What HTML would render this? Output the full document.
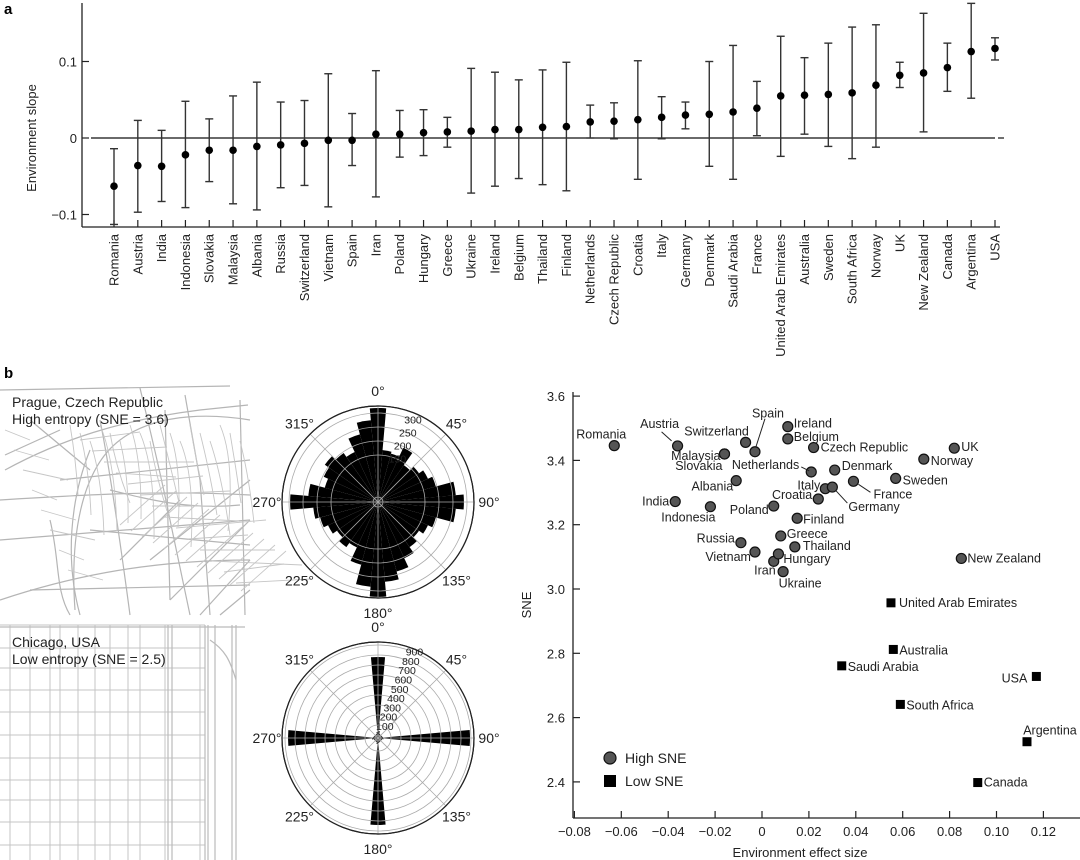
<!DOCTYPE html>
<html><head><meta charset="utf-8"><style>
html,body{margin:0;padding:0;background:#fff}
svg{display:block;font-family:"Liberation Sans",Arial,sans-serif}
</style></head><body>
<svg id="fig" width="1080" height="860" viewBox="0 0 1080 860">
<text x="4" y="14" font-size="15" font-weight="bold">a</text>
<text x="4" y="378" font-size="15" font-weight="bold">b</text>
<g id="pa"></g>
<g id="maps"></g>
<g id="polar1"></g>
<g id="polar2"></g>
<g id="sc"></g>
</svg>
<script>
const countries=["Romania","Austria","India","Indonesia","Slovakia","Malaysia","Albania","Russia","Switzerland","Vietnam","Spain","Iran","Poland","Hungary","Greece","Ukraine","Ireland","Belgium","Thailand","Finland","Netherlands","Czech Republic","Croatia","Italy","Germany","Denmark","Saudi Arabia","France","United Arab Emirates","Australia","Sweden","South Africa","Norway","UK","New Zealand","Canada","Argentina","USA"];
const slopeMean=[-0.063,-0.036,-0.037,-0.022,-0.016,-0.016,-0.011,-0.009,-0.007,-0.003,-0.003,0.005,0.005,0.007,0.008,0.009,0.011,0.011,0.014,0.015,0.021,0.022,0.024,0.027,0.030,0.031,0.034,0.039,0.055,0.056,0.057,0.059,0.069,0.082,0.085,0.092,0.113,0.117];
const slopeLow=[-0.113,-0.097,-0.083,-0.091,-0.057,-0.086,-0.094,-0.065,-0.062,-0.090,-0.036,-0.077,-0.025,-0.023,-0.012,-0.072,-0.063,-0.053,-0.061,-0.069,0.000,-0.001,-0.054,-0.001,0.012,-0.037,-0.054,0.003,-0.024,0.005,-0.011,-0.027,-0.012,0.066,0.008,0.061,0.052,0.102];
const slopeHigh=[-0.014,0.023,0.010,0.048,0.025,0.055,0.073,0.047,0.049,0.084,0.032,0.088,0.036,0.037,0.027,0.091,0.086,0.076,0.089,0.099,0.043,0.046,0.101,0.054,0.047,0.100,0.121,0.074,0.133,0.105,0.124,0.145,0.148,0.099,0.163,0.124,0.176,0.131];
const slopeTicks=[-0.1,0,0.1];
const sneValues=[3.446,3.445,3.272,3.256,3.42,3.42,3.337,3.144,3.456,3.115,3.427,3.086,3.258,3.109,3.165,3.054,3.505,3.467,3.131,3.22,3.364,3.44,3.28,3.312,3.317,3.37,2.761,3.335,2.957,2.812,3.344,2.641,3.404,3.438,3.095,2.398,2.525,2.728];
const sneLow=["Saudi Arabia","United Arab Emirates","Australia","South Africa","Canada","Argentina","USA"];
const scXTicks=[-0.08,-0.06,-0.04,-0.02,0,0.02,0.04,0.06,0.08,0.10,0.12];
const scXTickLabels=["\u22120.08","\u22120.06","\u22120.04","\u22120.02","0","0.02","0.04","0.06","0.08","0.10","0.12"];
const scYTicks=[2.4,2.6,2.8,3.0,3.2,3.4,3.6];
const pragueCounts=[318,168,161,196,143,161,179,196,261,289,261,196,179,161,179,204,239,268,321,286,214,161,179,161,179,196,214,296,232,179,196,214,196,179,232,275];
const chicagoCounts=[780,40,15,10,10,10,10,12,20,890,25,12,10,10,10,10,12,20,840,30,12,10,10,10,10,12,30,870,20,12,10,10,10,10,12,30];
const pragueRings=[150,200,250,300];
const chicagoRings=[100,200,300,400,500,600,700,800,900];

const NS="http://www.w3.org/2000/svg";
function mk(parent,tag,attrs,text){const e=document.createElementNS(NS,tag);for(const k in attrs)e.setAttribute(k,attrs[k]);if(text!==undefined)e.textContent=text;parent.appendChild(e);return e;}
let e;
// ---------- panel a ----------
const pa=document.getElementById('pa');
const ax0=82,ax1=1000,ayB=227,ayT=3;
const xa=i=>114+i*(995-114)/(countries.length-1);
const ya=v=>138-v*765;
e=mk(pa,'line',{x1:ax0,y1:ayT,x2:ax0,y2:ayB,stroke:'#222','stroke-width':1.3});

e=mk(pa,'line',{x1:ax0,y1:ayB,x2:ax1,y2:ayB,stroke:'#222','stroke-width':1.3});

e=mk(pa,'line',{x1:91,y1:ya(0),x2:995,y2:ya(0),stroke:'#111','stroke-width':1.2});

mk(pa,'line',{x1:998,y1:ya(0),x2:1004,y2:ya(0),stroke:'#111','stroke-width':1.2});
slopeTicks.forEach(t=>{
  mk(pa,'line',{x1:ax0,y1:ya(t),x2:ax0+7,y2:ya(t),stroke:'#222','stroke-width':1.2});
  e=mk(pa,'text',{x:ax0-5,y:ya(t)+5,'text-anchor':'end','font-size':13,fill:'#222'},t===0?'0':(t<0?'\u2212'+Math.abs(t):String(t)));
  
});
e=mk(pa,'text',{x:0,y:0,transform:'translate(36,138) rotate(-90)','text-anchor':'middle','font-size':13,fill:'#222'},'Environment slope');

countries.forEach((c,i)=>{
  const x=xa(i);
  mk(pa,'line',{x1:x,y1:ayB,x2:x,y2:ayB-7,stroke:'#222','stroke-width':1.2});
  e=mk(pa,'text',{x:0,y:0,transform:`translate(${x},234) rotate(-90)`,'text-anchor':'end','dominant-baseline':'central','font-size':13,fill:'#222'},c);
  
  const g=mk(pa,'g',{});
  
  
  mk(g,'line',{x1:x,y1:ya(slopeLow[i]),x2:x,y2:ya(slopeHigh[i]),stroke:'#333','stroke-width':1.4});
  mk(g,'line',{x1:x-4,y1:ya(slopeLow[i]),x2:x+4,y2:ya(slopeLow[i]),stroke:'#333','stroke-width':1.4});
  mk(g,'line',{x1:x-4,y1:ya(slopeHigh[i]),x2:x+4,y2:ya(slopeHigh[i]),stroke:'#333','stroke-width':1.4});
  mk(g,'circle',{cx:x,cy:ya(slopeMean[i]),r:3.8,fill:'#000'});
});

// ---------- maps ----------
const mp=document.getElementById('maps');
const pg=mk(mp,'g',{});

const praguePaths=["M5,470 C60,440 120,420 200,410 L248,405","M75,610 C70,540 80,470 120,440 C160,410 220,415 250,420","M30,590 L250,585","M0,540 L250,520","M0,500 C80,495 160,490 250,495","M140,388 C150,430 160,470 170,520 L190,615","M185,395 L200,480 L210,615","M100,420 C110,470 120,540 130,615","M60,480 L250,460","M90,530 L250,545","M150,560 L250,480","M170,600 L250,520","M200,615 L250,560","M220,615 L250,590","M0,600 C60,580 140,560 250,560","M30,420 L90,470","M5,455 L60,430","M240,400 L245,615","M165,410 L170,600","M110,490 C150,500 190,510 240,505","M120,560 L180,500","M50,520 C60,560 55,590 70,615","M0,390 L230,386","M90,450 C70,500 65,560 80,615"];
praguePaths.forEach(d=>mk(pg,'path',{d,stroke:'#b5b5b5','stroke-width':1.2,fill:'none'}));
for(let i=0;i<18;i++){mk(pg,'path',{d:`M${70+i*10},${425+(i%3)*8} q${6+i%4*3},${35} ${8+i%5*3},${70+(i%4)*12}`,stroke:'#c6c6c6','stroke-width':0.9,fill:'none'});}
for(let i=0;i<14;i++){mk(pg,'path',{d:`M${80+i*12},${440+i*11} l${60+(i%3)*15},${-8+(i%4)*4}`,stroke:'#c6c6c6','stroke-width':0.9,fill:'none'});}
for(let i=0;i<12;i++){mk(pg,'path',{d:`M${120+i*11},${525+i*6} l45,-40`,stroke:'#c6c6c6','stroke-width':0.9,fill:'none'});}
for(let i=0;i<8;i++){mk(pg,'path',{d:`M${5+i*9},${430+i*20} l${25+i%3*10},${10}`,stroke:'#c6c6c6','stroke-width':0.9,fill:'none'});}
e=mk(pg,'text',{x:12,y:407,'font-size':14,fill:'#222'},'Prague, Czech Republic');

e=mk(pg,'text',{x:12,y:424,'font-size':14,fill:'#222'},'High entropy (SNE = 3.6)');

const cg=mk(mp,'g',{});

[10,30,50,60,78,95,110,128,140,165,200].forEach(x=>mk(cg,'line',{x1:x,y1:625,x2:x,y2:860,stroke:'#c4c4c4','stroke-width':1}));
[625,648,668,690,712,735,758,780,800,822,845].forEach(y=>mk(cg,'line',{x1:0,y1:y,x2:205,y2:y,stroke:'#c4c4c4','stroke-width':1}));
[168,172,205,208,215,232,236].forEach(x=>mk(cg,'line',{x1:x,y1:625,x2:x,y2:860,stroke:'#bbb','stroke-width':1.2}));
mk(cg,'line',{x1:0,y1:627,x2:245,y2:627,stroke:'#bbb','stroke-width':1.3});
mk(cg,'path',{d:"M210,640 C225,650 230,660 236,680",stroke:'#bbb','stroke-width':1.2,fill:'none'});
e=mk(cg,'text',{x:12,y:647,'font-size':14,fill:'#222'},'Chicago, USA');

e=mk(cg,'text',{x:12,y:664,'font-size':14,fill:'#222'},'Low entropy (SNE = 2.5)');


// ---------- polar ----------
function polar(gid,cx,cy,R,r0,scale,counts,rings,name){
  const g=document.getElementById(gid);
  const rr=v=>r0+v*scale;
  const n=counts.length,step=2*Math.PI/n;
  mk(g,'circle',{cx,cy,r:R,fill:'#fff',stroke:'#222','stroke-width':1.2});
  counts.forEach((v,i)=>{
    const a0=i*step-step/2,a1=i*step+step/2,r=Math.min(rr(v),R);
    const p=(a,rad)=>`${cx+rad*Math.sin(a)},${cy-rad*Math.cos(a)}`;
    e=mk(g,'path',{d:`M${cx},${cy} L${p(a0,r)} A${r},${r} 0 0 1 ${p(a1,r)} Z`,fill:'#000'});
    
  });
  [0].concat(rings).forEach(v=>mk(g,'circle',{cx,cy,r:rr(v),fill:'none',stroke:'#aaa','stroke-width':0.8}));
  for(let k=0;k<8;k++){const a=k*Math.PI/4;mk(g,'line',{x1:cx,y1:cy,x2:cx+R*Math.sin(a),y2:cy-R*Math.cos(a),stroke:'#aaa','stroke-width':0.8});}
  mk(g,'circle',{cx,cy,r:R,fill:'none',stroke:'#222','stroke-width':1.2});
  rings.forEach(v=>{const r=rr(v),a=0.38;
    e=mk(g,'text',{x:cx+r*Math.sin(a)+2,y:cy-r*Math.cos(a)+4,'font-size':10.5,fill:'#222','text-anchor':'middle'},String(v));
    });
  [0,45,90,135,180,225,270,315].forEach(d=>{const a=d*Math.PI/180,rl=R+15;
    e=mk(g,'text',{x:cx+rl*Math.sin(a),y:cy-rl*Math.cos(a)+5,'font-size':14,fill:'#222','text-anchor':'middle'},d+'\u00b0');
    });
}
polar('polar1',378,502,96,5,0.28,pragueCounts,pragueRings,'prague');
polar('polar2',378,738,96,3,0.1,chicagoCounts,chicagoRings,'chicago');

// ---------- scatter ----------
const sc=document.getElementById('sc');
const xs=v=>762+v*2345, ys=v=>589-(v-3.0)*321.5;
const sx0=573,syB=818;
e=mk(sc,'line',{x1:sx0,y1:392,x2:sx0,y2:syB,stroke:'#222','stroke-width':1.3});

e=mk(sc,'line',{x1:sx0,y1:syB,x2:1080,y2:syB,stroke:'#222','stroke-width':1.3});

scXTicks.forEach((t,i)=>{const x=xs(t);
  mk(sc,'line',{x1:x,y1:syB,x2:x,y2:syB-7,stroke:'#222','stroke-width':1.2});
  e=mk(sc,'text',{x,y:syB+18,'text-anchor':'middle','font-size':13,fill:'#222'},scXTickLabels[i]);
  });
scYTicks.forEach(t=>{const y=ys(t);
  mk(sc,'line',{x1:sx0,y1:y,x2:sx0+7,y2:y,stroke:'#222','stroke-width':1.2});
  e=mk(sc,'text',{x:sx0-8,y:y+5,'text-anchor':'end','font-size':13,fill:'#222'},t.toFixed(1));
  });
e=mk(sc,'text',{x:0,y:0,transform:'translate(531,605) rotate(-90)','text-anchor':'middle','font-size':13,fill:'#222'},'SNE');

e=mk(sc,'text',{x:800,y:857,'text-anchor':'middle','font-size':13,fill:'#222'},'Environment effect size');

const lay={"Romania":[-13,-11,'middle'],"Austria":[-18,-22,'middle',[-6,-5,-16,-14]],"Switzerland":[-29,-11,'middle'],"Spain":[13,-38,'middle',[1,-5,10,-33]],
"Ireland":[6,-3,'start'],"Belgium":[6,-2,'start'],"Czech Republic":[7,0,'start'],"Malaysia":[-4,2,'end'],"Slovakia":[-2,12,'end'],
"Netherlands":[-12,-7,'end',[-10,-5,-2,-1]],"Denmark":[7,-4,'start'],"UK":[7,-1,'start'],"Norway":[7,2,'start'],"Sweden":[7,2,'start'],
"France":[20,13,'start',[5,3,17,11]],"Germany":[16,20,'start',[3,3,15,16]],"Italy":[-5,-3,'end'],"Croatia":[-6,-4,'end'],"Albania":[-3,6,'end'],
"India":[-6,0,'end'],"Indonesia":[-22,11,'middle'],"Poland":[-5,4,'end'],"Finland":[6,1,'start'],"Greece":[6,-2,'start'],"Thailand":[8,-1,'start'],
"Russia":[-6,-4,'end'],"Vietnam":[-4,5,'end'],"Hungary":[5,5,'start'],"Iran":[2,9,'end'],"Ukraine":[17,12,'middle'],"New Zealand":[6,0,'start'],
"United Arab Emirates":[8,0,'start'],"Australia":[6,1,'start'],"Saudi Arabia":[6,1,'start'],"USA":[-9,2,'end'],"South Africa":[6,1,'start'],
"Argentina":[23,-11,'middle'],"Canada":[6,0,'start']};
countries.forEach((c,i)=>{
  const x=xs(slopeMean[i]),y=ys(sneValues[i]);
  const low=sneLow.includes(c);
  if(low){e=mk(sc,'rect',{x:x-4.5,y:y-4.5,width:9,height:9,fill:'#000'});}
  else{e=mk(sc,'circle',{cx:x,cy:y,r:5,fill:'#555',stroke:'#111','stroke-width':1.2});}
  
  
  const l=lay[c];
  if(l[3]) mk(sc,'line',{x1:x+l[3][0],y1:y+l[3][1],x2:x+l[3][2],y2:y+l[3][3],stroke:'#222','stroke-width':1});
  e=mk(sc,'text',{x:x+l[0],y:y+l[1],'text-anchor':l[2],'dominant-baseline':'central','font-size':12.5,fill:'#222'},c);
  
});
const lg=mk(sc,'g',{});

e=mk(lg,'circle',{cx:610,cy:758,r:6,fill:'#555',stroke:'#111','stroke-width':1.2});

e=mk(lg,'text',{x:625,y:763,'font-size':14,fill:'#222'},'High SNE');

e=mk(lg,'rect',{x:604,y:775,width:12,height:12,fill:'#000'});

e=mk(lg,'text',{x:625,y:786,'font-size':14,fill:'#222'},'Low SNE');

</script>
</body></html>
